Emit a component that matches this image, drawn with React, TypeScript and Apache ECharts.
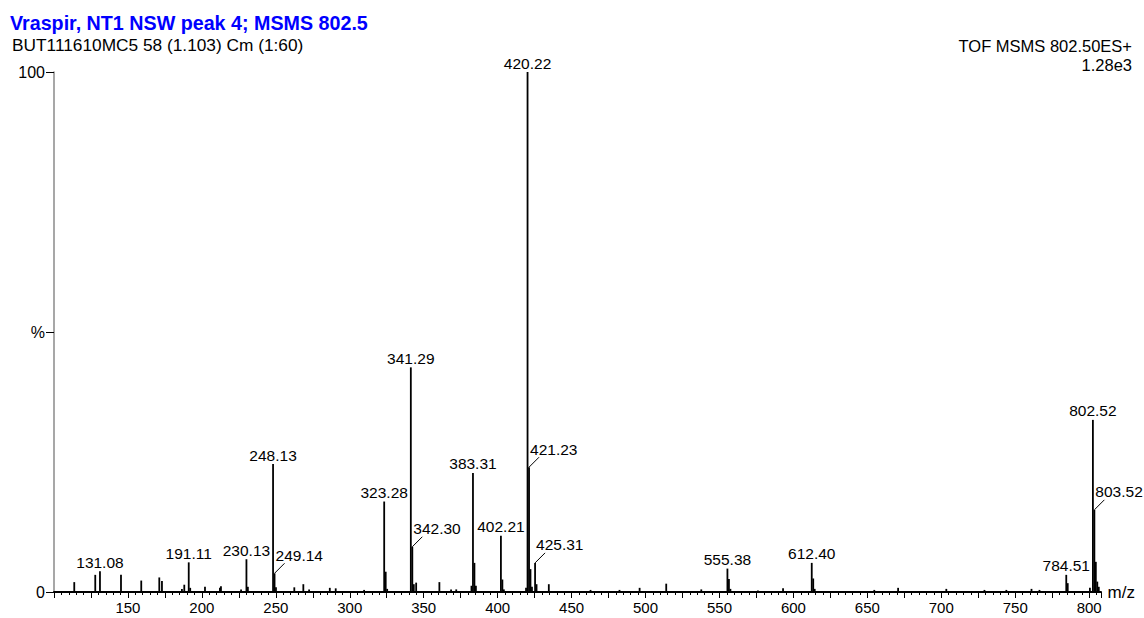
import React, { useEffect, useRef } from "react";
import * as echarts from "echarts";

const TITLE = "Vraspir, NT1 NSW peak 4; MSMS 802.5";
const SUBTITLE = "BUT111610MC5 58 (1.103) Cm (1:60)";
const INSTRUMENT = "TOF MSMS 802.50ES+";
const SCALE_TEXT = "1.28e3";
const X_NAME = "m/z";

// spectrum sticks: m/z and relative intensity (%)
const mzValues = [
  113.7, 127.9, 131.08, 145.3, 159.0, 171.2, 173.0, 186.5, 188.1, 191.11,
  192.1, 202.1, 212.2, 212.9, 226.5, 230.13, 231.1, 248.13, 249.14, 250.1,
  262.5, 268.6, 272.5, 286.5, 290.5, 309.7, 323.28, 324.3, 325.3, 341.29,
  342.3, 343.3, 344.9, 360.6, 368.5, 372.0, 382.3, 383.31, 384.3, 385.3,
  402.21, 403.2, 404.2, 419.2, 420.22, 421.23, 422.2, 423.2, 425.31, 426.3,
  434.6, 462.8, 482.4, 496.0, 514.0, 537.7, 555.38, 556.4, 557.4, 576.0,
  593.0, 612.4, 613.4, 614.4, 654.7, 670.8, 703.4, 729.2, 744.0, 761.0,
  766.4, 784.51, 785.5, 800.5, 802.52, 803.52, 804.5, 805.5, 806.5,
];
const intensities = [
  1.9, 3.3, 4.0, 3.3, 2.2, 2.8, 2.1, 0.6, 1.4, 5.7,
  0.8, 1.0, 0.8, 1.1, 0.5, 6.3, 1.0, 24.6, 3.6, 0.9,
  0.9, 1.5, 0.5, 0.8, 0.7, 0.4, 17.4, 3.9, 0.6, 43.2,
  8.7, 1.5, 1.8, 1.9, 0.5, 0.5, 1.2, 22.9, 5.6, 1.2,
  10.8, 2.4, 0.5, 0.8, 100, 24.0, 4.4, 1.0, 5.6, 1.5,
  1.5, 0.4, 0.4, 0.8, 1.6, 0.5, 4.5, 2.5, 0.6, 0.3,
  0.7, 5.6, 2.6, 0.6, 0.4, 0.8, 0.6, 0.4, 0.4, 0.6,
  0.4, 3.3, 1.7, 0.8, 33.1, 15.8, 5.8, 2.0, 1.0,
];

// annotated peaks
const labeledMz = [
  131.08, 191.11, 230.13, 248.13, 249.14, 323.28, 341.29, 342.3, 383.31,
  402.21, 420.22, 421.23, 425.31, 555.38, 612.4, 784.51, 802.52, 803.52,
];
const leaderMz = [249.14, 342.3, 421.23, 425.31, 803.52];

const xTickLabels = [150, 200, 250, 300, 350, 400, 450, 500, 550, 600, 650, 700, 750, 800];
const yTickValues = [0, 50, 100];
const yTickLabels = ["0", "%", "100"];

const FONT = "'Liberation Sans', Arial, Helvetica, sans-serif";

export default function App() {
  const ref = useRef<HTMLDivElement>(null);

  useEffect(() => {
    if (!ref.current) return;
    const chart = echarts.init(ref.current, undefined, { renderer: "svg" });

    const sticks = mzValues.map((m, i) => [m, intensities[i]]);
    const labels = labeledMz.map((m) => {
      const idx = mzValues.findIndex((v) => Math.abs(v - m) < 1e-6);
      return [m, intensities[idx], leaderMz.includes(m) ? 1 : 0];
    });

    chart.setOption({
      animation: false,
      backgroundColor: "#ffffff",
      textStyle: { fontFamily: FONT },
      grid: { left: 54, right: 43, top: 72, bottom: 26, containLabel: false },
      xAxis: {
        type: "value",
        min: 100,
        max: 808,
        interval: 25,
        name: X_NAME,
        nameLocation: "end",
        nameGap: 6,
        nameTextStyle: { fontSize: 17, color: "#000", fontFamily: FONT, verticalAlign: "middle" },
        axisLine: { show: true, onZero: false, lineStyle: { color: "#000", width: 2 } },
        axisTick: { show: true, inside: false, length: 6, lineStyle: { color: "#000", width: 1 } },
        minorTick: { show: true, splitNumber: 5, length: 3, lineStyle: { color: "#000", width: 1 } },
        axisLabel: {
          show: true,
          margin: 8,
          fontSize: 15,
          color: "#000",
          fontFamily: FONT,
          showMinLabel: true,
          showMaxLabel: true,
          formatter: (v: number) => (xTickLabels.includes(v) ? String(v) : ""),
        },
        splitLine: { show: false },
        minorSplitLine: { show: false },
      },
      yAxis: {
        type: "value",
        min: 0,
        max: 100,
        interval: 50,
        axisLine: { show: true, lineStyle: { color: "#8a8a8a", width: 1.5 } },
        axisTick: { show: true, inside: false, length: 8, lineStyle: { color: "#000", width: 1 } },
        axisLabel: {
          show: true,
          margin: 9,
          fontSize: 16,
          color: "#000",
          fontFamily: FONT,
          formatter: (v: number) => {
            const i = yTickValues.indexOf(v);
            return i >= 0 ? yTickLabels[i] : "";
          },
        },
        splitLine: { show: false },
      },
      graphic: [
        {
          type: "text",
          x: 10,
          y: 23,
          style: { text: TITLE, fill: "#0000ff", font: `bold 19.7px ${FONT}`, align: "left", verticalAlign: "middle" },
        },
        {
          type: "text",
          x: 12,
          y: 45,
          style: { text: SUBTITLE, fill: "#000", font: `17.3px ${FONT}`, align: "left", verticalAlign: "middle" },
        },
        {
          type: "text",
          x: 1132,
          y: 46,
          style: { text: INSTRUMENT, fill: "#000", font: `16.5px ${FONT}`, align: "right", verticalAlign: "middle" },
        },
        {
          type: "text",
          x: 1132,
          y: 65,
          style: { text: SCALE_TEXT, fill: "#000", font: `16.5px ${FONT}`, align: "right", verticalAlign: "middle" },
        },
      ],
      series: [
        {
          type: "custom",
          name: "spectrum",
          data: sticks,
          encode: { x: 0, y: 1 },
          renderItem: (params: any, api: any) => {
            const x = api.value(0);
            const h = api.value(1);
            const p0 = api.coord([x, 0]);
            const p1 = api.coord([x, h]);
            return {
              type: "line",
              shape: { x1: p0[0], y1: p0[1], x2: p1[0], y2: p1[1] },
              style: { stroke: "#000", lineWidth: 1.8 },
            };
          },
        },
        {
          type: "custom",
          name: "labels",
          data: labels,
          encode: { x: 0, y: 1 },
          z: 5,
          renderItem: (params: any, api: any) => {
            const x = api.value(0);
            const h = api.value(1);
            const lead = api.value(2);
            const p = api.coord([x, h]);
            const txt = Number(x).toFixed(2);
            if (lead) {
              return {
                type: "group",
                children: [
                  {
                    type: "line",
                    shape: { x1: p[0], y1: p[1], x2: p[0] + 10, y2: p[1] - 10 },
                    style: { stroke: "#000", lineWidth: 1 },
                  },
                  {
                    type: "text",
                    x: p[0] + 1,
                    y: p[1] - 18,
                    style: { text: txt, fill: "#000", font: `15.5px ${FONT}`, align: "left", verticalAlign: "middle" },
                  },
                ],
              };
            }
            return {
              type: "text",
              x: p[0],
              y: p[1] - 9,
              style: { text: txt, fill: "#000", font: `15.5px ${FONT}`, align: "center", verticalAlign: "middle" },
            };
          },
        },
      ],
    });

    return () => chart.dispose();
  }, []);

  return (
    <div
      ref={ref}
      style={{ position: "fixed", left: 0, top: 0, width: 1144, height: 618, background: "#fff" }}
    />
  );
}
